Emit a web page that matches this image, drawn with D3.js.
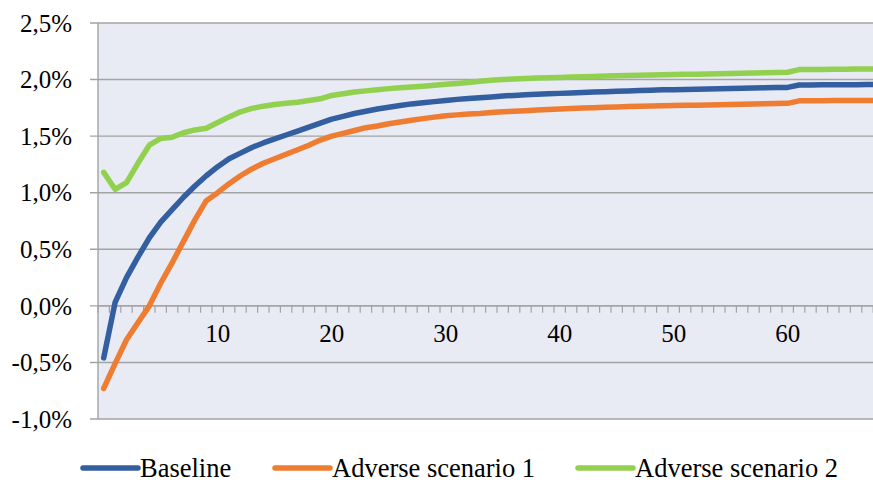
<!DOCTYPE html>
<html><head><meta charset="utf-8">
<script src="https://cdn.jsdelivr.net/npm/d3@7"></script>
<style>body{margin:0;background:#fff;} svg{display:block;}</style>
</head><body><svg id="c" width="873" height="483"></svg>
<script>
const categories = d3.range(0, 69);
const xTickLabels = [10, 20, 30, 40, 50, 60];
const yTicks = [-1.0, -0.5, 0.0, 0.5, 1.0, 1.5, 2.0, 2.5];
const seriesNames = ["Baseline", "Adverse scenario 1", "Adverse scenario 2"];
const baseline = [-0.46,0.03,0.25,0.43,0.60,0.74,0.85,0.96,1.06,1.15,1.23,1.30,1.35,1.40,1.44,1.475,1.51,1.545,1.58,1.615,1.65,1.675,1.70,1.72,1.74,1.755,1.77,1.785,1.795,1.805,1.815,1.825,1.832,1.84,1.847,1.855,1.86,1.865,1.87,1.875,1.878,1.882,1.886,1.89,1.893,1.897,1.90,1.903,1.906,1.909,1.911,1.913,1.915,1.917,1.919,1.921,1.923,1.925,1.927,1.929,1.931,1.952,1.953,1.954,1.954,1.955,1.955,1.956,1.956];
const adverse1 = [-0.73,-0.51,-0.30,-0.15,0.00,0.20,0.38,0.57,0.76,0.93,1.00,1.08,1.15,1.21,1.26,1.30,1.34,1.38,1.42,1.465,1.50,1.525,1.55,1.575,1.59,1.61,1.625,1.64,1.655,1.668,1.68,1.688,1.695,1.70,1.708,1.715,1.72,1.725,1.73,1.735,1.74,1.744,1.748,1.752,1.755,1.758,1.761,1.764,1.766,1.768,1.77,1.772,1.774,1.776,1.778,1.78,1.782,1.784,1.786,1.788,1.79,1.812,1.813,1.813,1.814,1.814,1.815,1.815,1.815];
const adverse2 = [1.18,1.03,1.09,1.26,1.42,1.48,1.49,1.53,1.555,1.57,1.62,1.67,1.715,1.745,1.765,1.78,1.79,1.80,1.815,1.83,1.86,1.875,1.89,1.90,1.91,1.92,1.928,1.935,1.942,1.95,1.958,1.966,1.975,1.985,1.993,2.0,2.005,2.009,2.013,2.016,2.019,2.022,2.025,2.028,2.031,2.034,2.036,2.038,2.04,2.042,2.044,2.046,2.048,2.05,2.052,2.054,2.056,2.058,2.06,2.062,2.065,2.088,2.089,2.09,2.091,2.092,2.093,2.094,2.094];
const colors = ["#335EA0", "#EE7D31", "#92D050"];

const svg = d3.select("#c");
const mLeft = 98, mTop = 23, mBottom = 419, bw = 11.4;
const W = 873;
const x = d3.scaleBand().domain(categories).range([mLeft, mLeft + categories.length * bw]).padding(0);
const y = d3.scaleLinear().domain([-1.0, 2.5]).range([mBottom, mTop]);
const serif = "'Liberation Serif','Times New Roman',serif";

// plot background
svg.append("rect").attr("x", mLeft).attr("y", mTop).attr("width", W - mLeft).attr("height", mBottom - mTop).attr("fill", "#E8EAF4");

// gridlines
svg.append("g").selectAll("line").data(yTicks).join("line")
  .attr("x1", mLeft - 8).attr("x2", W).attr("y1", d => y(d)).attr("y2", d => y(d))
  .attr("stroke", "#A3A3A3").attr("stroke-width", 1.4);

// y axis line
svg.append("line").attr("x1", mLeft).attr("x2", mLeft).attr("y1", mTop).attr("y2", mBottom)
  .attr("stroke", "#A3A3A3").attr("stroke-width", 1.4);

// y labels
const fmt = d => d.toFixed(1).replace(".", ",") + "%";
svg.append("g").selectAll("text").data(yTicks).join("text")
  .attr("x", 72).attr("y", d => y(d)).attr("dy", "0.35em").attr("text-anchor", "end")
  .attr("font-family", serif).attr("font-size", 25)
  .attr("fill", "#000").text(fmt);

// x axis at zero with ticks at category boundaries
const xg = svg.append("g").attr("transform", `translate(0,${y(0)})`);
xg.append("line").attr("x1", mLeft).attr("x2", W).attr("y1", 0).attr("y2", 0).attr("stroke", "#A3A3A3").attr("stroke-width", 1.4);
xg.selectAll("line.tk").data(categories).join("line").attr("class", "tk")
  .attr("x1", d => x(d)).attr("x2", d => x(d)).attr("y1", 0).attr("y2", 7)
  .attr("stroke", "#A3A3A3").attr("stroke-width", 1.2);
xg.selectAll("text").data(xTickLabels).join("text")
  .attr("x", d => x(d) + x.bandwidth() / 2).attr("y", 36).attr("text-anchor", "middle")
  .attr("font-family", serif).attr("font-size", 25)
  .attr("fill", "#000").text(d => d);

// lines
const allSeries = [baseline, adverse1, adverse2];
const line = d3.line().x((d, i) => x(categories[i]) + x.bandwidth() / 2).y(d => y(d));
svg.append("defs").append("clipPath").attr("id", "clip").append("rect")
  .attr("x", mLeft - 10).attr("y", 0).attr("width", W - mLeft + 10).attr("height", 483);
const lg = svg.append("g").attr("clip-path", "url(#clip)");
[2, 0, 1].forEach(k => {
  lg.append("path").datum(allSeries[k]).attr("d", line)
    .attr("fill", "none").attr("stroke", colors[k]).attr("stroke-width", 5.5)
    .attr("stroke-linejoin", "round").attr("stroke-linecap", "round");
});

// legend
const legendX = [83, 275, 578];
const lgd = svg.append("g");
seriesNames.forEach((n, k) => {
  lgd.append("line").attr("x1", legendX[k]).attr("x2", legendX[k] + 55).attr("y1", 468).attr("y2", 468)
    .attr("stroke", colors[k]).attr("stroke-width", 5.5).attr("stroke-linecap", "round");
  lgd.append("text").attr("x", legendX[k] + 57).attr("y", 477)
    .attr("font-family", serif).attr("font-size", 26.5)
    .attr("fill", "#000").text(n);
});
</script></body></html>
